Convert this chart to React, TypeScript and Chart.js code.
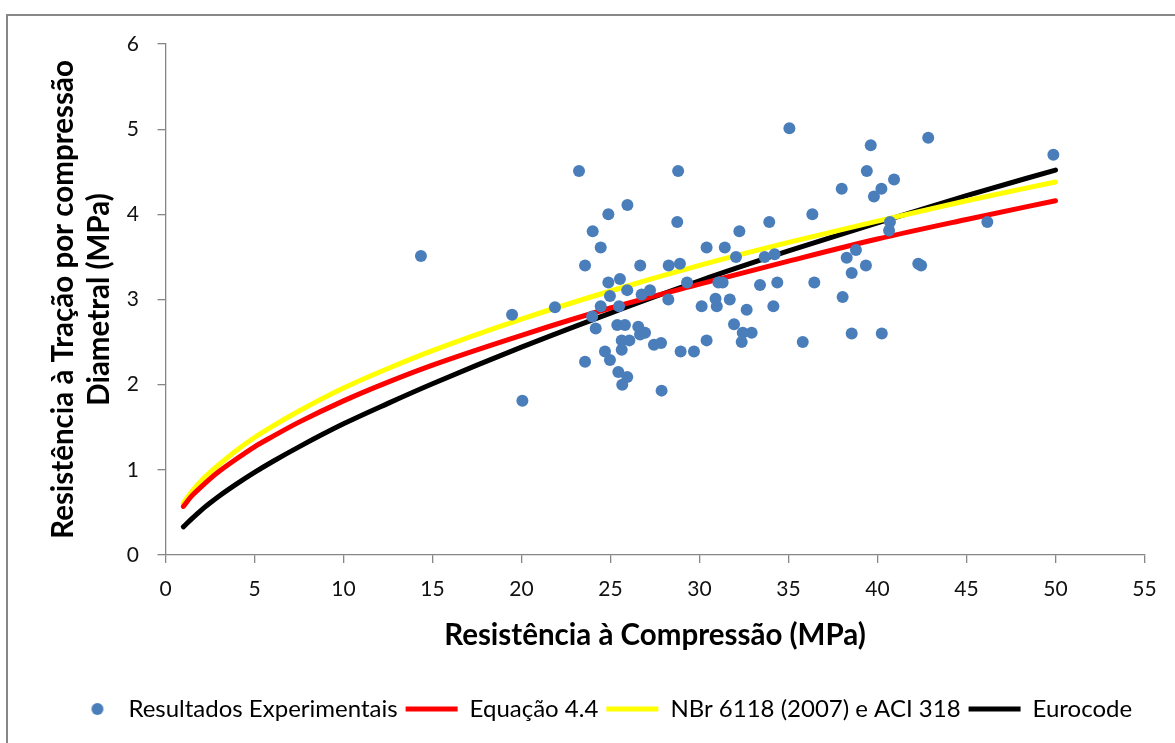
import React, { useEffect, useRef } from "react";
import { Chart, registerables } from "chart.js";

Chart.register(...registerables);

// Experimental results (fc in MPa, tensile splitting strength in MPa)
const SCATTER_X = [
  14.35, 19.47, 20.05, 21.88, 23.23, 23.57, 23.57, 24.0, 23.97, 24.17,
  24.45, 24.45, 24.69, 24.88, 24.88, 24.97, 24.97, 25.48, 25.53, 25.38,
  25.81, 25.63, 26.06, 25.63, 25.44, 25.94, 25.66, 25.95, 25.94, 26.67,
  26.75, 27.22, 26.56, 26.94, 26.66, 27.44, 27.84, 27.87, 28.27, 28.25,
  28.8, 28.75, 28.9, 28.94, 29.3, 29.69, 30.12, 30.4, 30.4, 30.9,
  30.97, 31.06, 31.3, 31.42, 31.7, 31.94, 32.05, 32.24, 32.37, 32.43,
  32.65, 32.93, 33.4, 33.66, 33.92, 34.15, 34.22, 34.37, 35.05, 35.8,
  36.34, 36.45, 37.99, 38.04, 38.27, 38.55, 38.55, 38.79, 39.35, 39.4,
  39.62, 39.8, 40.22, 40.24, 40.65, 40.7, 40.93, 42.29, 42.45, 42.85,
  46.17, 49.88,
];
const SCATTER_Y = [
  3.51, 2.82, 1.81, 2.91, 4.51, 3.40, 2.27, 3.80, 2.80, 2.66,
  3.61, 2.92, 2.39, 4.00, 3.20, 3.04, 2.29, 2.92, 3.24, 2.70,
  2.70, 2.52, 2.52, 2.41, 2.15, 2.09, 2.00, 4.11, 3.11, 3.40,
  3.06, 3.11, 2.68, 2.61, 2.59, 2.47, 2.49, 1.93, 3.40, 3.00,
  4.51, 3.91, 3.42, 2.39, 3.20, 2.39, 2.92, 3.61, 2.52, 3.01,
  2.92, 3.20, 3.20, 3.61, 3.00, 2.71, 3.50, 3.80, 2.50, 2.61,
  2.88, 2.61, 3.17, 3.50, 3.91, 2.92, 3.53, 3.20, 5.01, 2.50,
  4.00, 3.20, 4.30, 3.03, 3.49, 3.31, 2.60, 3.58, 3.40, 4.51,
  4.81, 4.21, 4.30, 2.60, 3.81, 3.91, 4.41, 3.42, 3.40, 4.90,
  3.91, 4.70,
];

// Curves
const CURVE_X = [1, 1.5, 2, 2.5, 3, 4, 5, 6, 7.5, 10, 12.5, 15, 20, 25, 30, 35, 40, 45, 50];
const EQ44_Y = [0.57, 0.70, 0.80, 0.895, 0.98, 1.13, 1.27, 1.39, 1.56, 1.81, 2.03, 2.23, 2.58, 2.90, 3.18, 3.45, 3.71, 3.94, 4.16];
const NBR_Y = [0.61, 0.75, 0.87, 0.97, 1.06, 1.23, 1.38, 1.51, 1.69, 1.96, 2.19, 2.40, 2.77, 3.10, 3.40, 3.67, 3.92, 4.16, 4.38];
const EURO_Y = [0.33, 0.43, 0.525, 0.61, 0.69, 0.835, 0.97, 1.095, 1.27, 1.54, 1.78, 2.01, 2.44, 2.84, 3.22, 3.57, 3.90, 4.22, 4.52];

const LABELS = [
  "Resultados Experimentais",
  "Equação 4.4",
  "NBr 6118 (2007) e ACI 318",
  "Eurocode",
];
const X_TITLE = "Resistência à Compressão (MPa)";
const Y_TITLE = ["Resistência à Tração por compressão", "Diametral (MPa)"];

const FONT = "Lato, 'Liberation Sans', sans-serif";
const LEGEND_SHIFT = 16;

export default function App() {
  const ref = useRef<HTMLCanvasElement | null>(null);

  useEffect(() => {
    if (!ref.current) return;
    const dot = document.createElement("canvas");
    dot.width = 28;
    dot.height = 14;
    const dctx = dot.getContext("2d")!;
    dctx.fillStyle = "#4A7EBB";
    dctx.beginPath();
    dctx.arc(21, 7, 6, 0, Math.PI * 2);
    dctx.fill();

    const toPts = (ys: number[]) => CURVE_X.map((x, i) => ({ x, y: ys[i] }));
    const lineDs = (label: string, ys: number[], color: string) => ({
      label,
      data: toPts(ys),
      showLine: true,
      borderColor: color,
      backgroundColor: color,
      borderWidth: 5,
      pointRadius: 0,
      pointHoverRadius: 0,
      pointStyle: "line",
      pointBorderColor: color,
      pointBorderWidth: 5,
      borderCapStyle: "round",
      cubicInterpolationMode: "monotone",
    });

    const shiftLegend = {
      id: "shiftLegend",
      afterLayout(chart: any) {
        const lg = chart.legend;
        if (lg) {
          lg.left += LEGEND_SHIFT;
          lg.right += LEGEND_SHIFT;
        }
      },
    };

    const chart = new Chart(ref.current, {
      type: "scatter",
      data: {
        datasets: [
          {
            label: LABELS[0],
            data: SCATTER_X.map((x, i) => ({ x, y: SCATTER_Y[i] })),
            pointRadius: 6,
            pointHoverRadius: 6,
            pointBackgroundColor: "#4A7EBB",
            backgroundColor: "#4A7EBB",
            borderColor: "#4A7EBB",
            pointBorderWidth: 0,
            borderWidth: 0,
          } as any,
          lineDs(LABELS[1], EQ44_Y, "#FF0000") as any,
          lineDs(LABELS[2], NBR_Y, "#FFFF00") as any,
          lineDs(LABELS[3], EURO_Y, "#000000") as any,
        ],
      },
      options: {
        animation: false,
        responsive: false,
        devicePixelRatio: 1,
        layout: { padding: { left: 20, top: 44, right: 30.5, bottom: 12 } },
        plugins: {
          tooltip: { enabled: false },
          legend: {
            position: "bottom",
            labels: {
              usePointStyle: true,
              pointStyleWidth: 52,
              boxHeight: 24,
              padding: 8,
              color: "#000",
              font: { family: FONT, size: 24 },
              generateLabels: (c: any) => {
                const items = (Chart.defaults.plugins.legend.labels as any).generateLabels(c);
                items[0].pointStyle = dot;
                return items;
              },
            },
          },
        },
        scales: {
          x: {
            type: "linear",
            min: 0,
            max: 55,
            ticks: {
              stepSize: 5,
              padding: 14,
              color: "#111",
              font: { family: FONT, size: 21 },
            },
            grid: {
              display: true,
              drawOnChartArea: false,
              drawTicks: true,
              tickLength: 8,
              color: "#868686",
              lineWidth: 1.3,
            },
            border: { display: true, color: "#868686", width: 1.3 },
            title: {
              display: true,
              text: X_TITLE,
              color: "#000",
              font: { family: FONT, size: 29.5, weight: "bold", lineHeight: 1.2 },
              padding: { top: 0, bottom: 36 },
            },
            afterFit: (s: any) => {
              s.height = 134;
            },
          },
          y: {
            type: "linear",
            min: 0,
            max: 6,
            ticks: {
              stepSize: 1,
              padding: 18.5,
              color: "#111",
              font: { family: FONT, size: 21 },
            },
            grid: {
              display: true,
              drawOnChartArea: false,
              drawTicks: true,
              tickLength: 8,
              color: "#868686",
              lineWidth: 1.3,
            },
            border: { display: true, color: "#868686", width: 1.3 },
            title: {
              display: true,
              text: Y_TITLE,
              color: "#000",
              font: { family: FONT, size: 29.5, weight: "bold", lineHeight: 1.22 },
              padding: { top: 25, bottom: 0 },
            },
            afterFit: (s: any) => {
              s.width = 145.5;
            },
          },
        },
      },
      plugins: [shiftLegend],
    } as any);
    return () => chart.destroy();
  }, []);

  return (
    <div
      style={{
        position: "fixed",
        left: 0,
        top: 0,
        width: 1175,
        height: 743,
        overflow: "hidden",
        background: "#fff",
      }}
    >
      <div
        style={{
          position: "absolute",
          left: 6,
          top: 14,
          width: 1300,
          height: 800,
          borderLeft: "2px solid #878787",
          borderTop: "2px solid #878787",
        }}
      />
      <canvas
        ref={ref}
        width={1175}
        height={743}
        style={{ position: "absolute", left: 0, top: 0, width: 1175, height: 743 }}
      />
    </div>
  );
}
